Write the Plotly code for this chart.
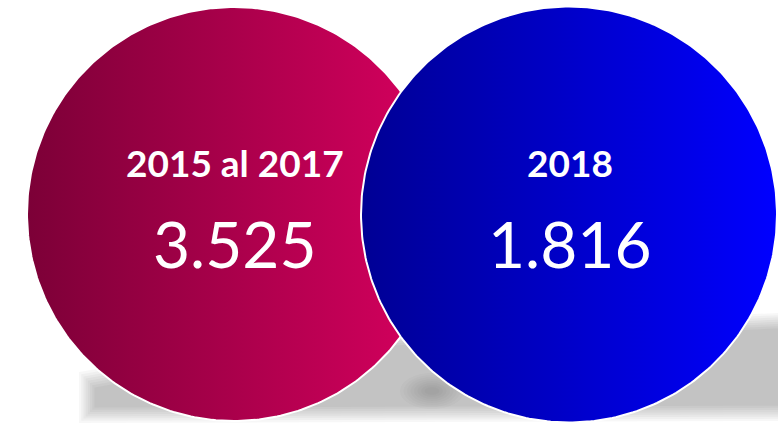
import numpy as np
import plotly.graph_objects as go

# ---- data ----
periods = ["2015 al 2017", "2018"]
values = [3525, 1816]

# ---- styling / layout constants ----
W, H = 778, 425
centers = [(234, 214), (569, 214.5)]
radii = [207, 208]
grad_colors = [["#7c0037", "#d8005f"], ["#000094", "#0000ff"]]

fig = go.Figure()

# circles with horizontal gradient
theta = np.linspace(0, 2 * np.pi, 361)
for (cx, cy), r, cols in zip(centers, radii, grad_colors):
    xs = cx + r * np.cos(theta)
    ys = cy + r * np.sin(theta)
    fig.add_trace(go.Scatter(
        x=xs, y=ys, mode="lines", fill="toself",
        line=dict(color="white", width=2),
        fillgradient=dict(type="horizontal",
                          colorscale=[[0, cols[0]], [1, cols[1]]],
                          start=cx - r, stop=cx + r),
        hoverinfo="skip", showlegend=False))

# shadow band (layered to imitate blur)
shapes = []
def band(d):
    pts = [(85 + d, 378 + d), (300, 340 + d), (800, 318 + d),
           (800, 415 - d), (85 + d, 417 - d)]
    return "M " + " L ".join(f"{x},{y}" for x, y in pts) + " Z"
for k in range(8):
    d = -6 + k * 2.2
    shapes.append(dict(type="path", path=band(d), layer="below",
                       fillcolor="rgba(0,0,0,0.031)", line=dict(width=0),
                       xref="x", yref="y"))
# subtle darker spot between circles
for k in range(8):
    rx, ry = 32 - k * 3.5, 18 - k * 2
    shapes.append(dict(type="circle", layer="below",
                       x0=432 - rx, x1=432 + rx, y0=391 - ry, y1=391 + ry,
                       fillcolor="rgba(0,0,0,0.018)", line=dict(width=0),
                       xref="x", yref="y"))

annotations = []
for (cx, cy), lab, val in zip(centers, periods, values):
    annotations.append(dict(x=cx + 1, y=162, text=f"<b>{lab}</b>",
                            showarrow=False, xanchor="center", yanchor="middle",
                            font=dict(family="Lato", size=37, color="white")))
    annotations.append(dict(x=cx + 1, y=243, text=f"{val:,}".replace(",", "."),
                            showarrow=False, xanchor="center", yanchor="middle",
                            font=dict(family="Lato", size=64, color="white")))

fig.update_layout(
    width=W, height=H, margin=dict(l=0, r=0, t=0, b=0),
    paper_bgcolor="white", plot_bgcolor="white",
    xaxis=dict(range=[0, W], visible=False, fixedrange=True),
    yaxis=dict(range=[H, 0], visible=False, fixedrange=True),
    shapes=shapes, annotations=annotations, showlegend=False,
)
fig.write_html("out.html", config={"displayModeBar": False},
               post_script="document.body.style.margin='0';")
